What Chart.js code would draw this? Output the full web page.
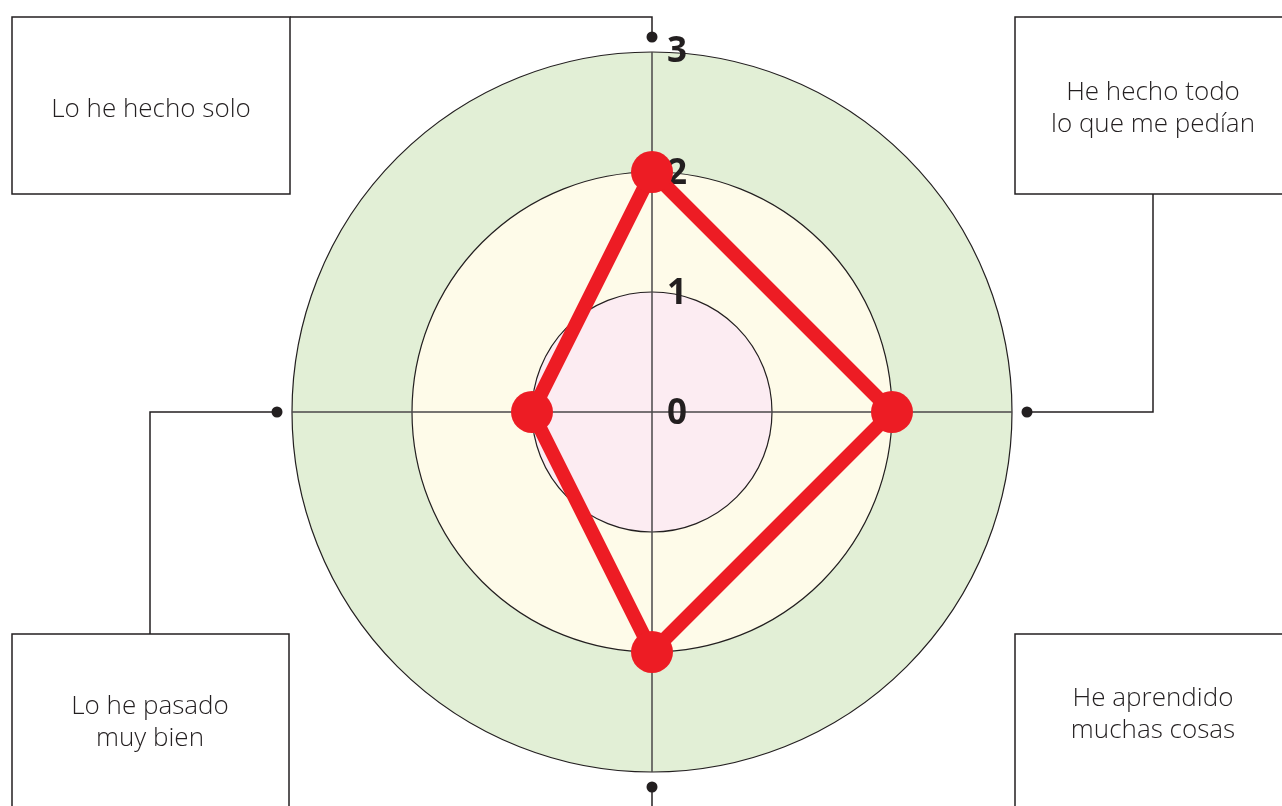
<!DOCTYPE html>
<html>
<head>
<meta charset="utf-8">
<script src="https://cdn.jsdelivr.net/npm/chart.js@4.4.0/dist/chart.umd.min.js"></script>
<style>
  html, body { margin: 0; padding: 0; background: #fff; overflow: hidden; }
  canvas { display: block; }
</style>
</head>
<body>
<canvas id="myChart" width="1282" height="806"></canvas>
<script>
// dados do gráfico
const labels = [
  ["Lo he hecho solo"],
  ["He hecho todo", "lo que me pedían"],
  ["He aprendido", "muchas cosas"],
  ["Lo he pasado", "muy bien"]
];
const valores = [2, 2, 2, 1];
const tickLabels = [0, 1, 2, 3];
const bandas = [3, 2, 1]; // anéis de fundo, de fora para dentro

const coresBandas = ['#e2efd6', '#fefbe9', '#fcecf2'];
const tinta = '#231f20';

// caixas dos rótulos (x, y, largura, altura, centro do texto)
const caixas = [
  { x: 12, y: 17, w: 278, h: 177, tx: 151, ty: 110 },
  { x: 1015, y: 17, w: 290, h: 177, tx: 1153, ty: 109 },
  { x: 1015, y: 634, w: 290, h: 200, tx: 1153, ty: 715 },
  { x: 12, y: 634, w: 277, h: 200, tx: 150, ty: 723 }
];
// ligações entre o ponto do eixo e a caixa
const caminhos = [
  p => [[p.x, 17], [290, 17]],
  p => [[1153, p.y], [1153, 194]],
  p => [[p.x, 830]],
  p => [[150, p.y], [150, 634]]
];

const fundo = {
  id: 'fundo',
  beforeDraw(chart) {
    const r = chart.scales.r;
    const ctx = chart.ctx;
    ctx.save();
    bandas.forEach((v, i) => {
      ctx.beginPath();
      ctx.arc(r.xCenter, r.yCenter, r.getDistanceFromCenterForValue(v), 0, Math.PI * 2);
      ctx.fillStyle = coresBandas[i];
      ctx.fill();
    });
    ctx.restore();
  }
};

const numeros = {
  id: 'numeros',
  beforeDatasetsDraw(chart) {
    const r = chart.scales.r;
    const ctx = chart.ctx;
    ctx.save();
    ctx.font = 'bold 35px "Open Sans"';
    ctx.fillStyle = tinta;
    ctx.textAlign = 'center';
    ctx.textBaseline = 'middle';
    tickLabels.forEach(t => {
      const d = r.getDistanceFromCenterForValue(t);
      ctx.fillText(String(t), r.xCenter + 25, r.yCenter - d - (t == 3 ? 2 : 0) + 2);
    });
    ctx.restore();
  }
};

const rotulos = {
  id: 'rotulos',
  afterDraw(chart) {
    const r = chart.scales.r;
    const ctx = chart.ctx;
    ctx.save();
    ctx.strokeStyle = tinta;
    ctx.fillStyle = tinta;
    ctx.lineWidth = 1.5;
    labels.forEach((lab, i) => {
      const p = r.getPointPosition(i, r.drawingArea + 15);
      // linha
      ctx.beginPath();
      ctx.moveTo(p.x, p.y);
      caminhos[i](p).forEach(q => ctx.lineTo(q[0], q[1]));
      ctx.stroke();
      // ponto
      ctx.beginPath();
      ctx.arc(p.x, p.y, 5.5, 0, Math.PI * 2);
      ctx.fill();
      // caixa
      const c = caixas[i];
      ctx.strokeRect(c.x, c.y, c.w, c.h);
      // texto
      ctx.font = '300 26px "Open Sans"';
      ctx.textAlign = 'center';
      ctx.textBaseline = 'middle';
      const lh = 32;
      const y0 = c.ty - (lab.length - 1) * lh / 2;
      lab.forEach((linha, k) => ctx.fillText(linha, c.tx, y0 + k * lh));
    });
    ctx.restore();
  }
};

const data = {
  labels: labels,
  datasets: [{
    data: valores,
    borderColor: '#ed1c24',
    backgroundColor: 'rgba(0,0,0,0)',
    borderWidth: 14,
    borderJoinStyle: 'round',
    fill: false,
    pointRadius: 21,
    pointHoverRadius: 21,
    pointBackgroundColor: '#ed1c24',
    pointBorderWidth: 0
  }]
};

const config = {
  type: 'radar',
  data: data,
  options: {
    responsive: false,
    animation: false,
    layout: { padding: { top: 52, bottom: 34, left: 292, right: 270 } },
    scales: {
      r: {
        min: 0,
        max: 3,
        ticks: { display: false, stepSize: 1 },
        grid: { circular: true, color: tinta, lineWidth: 1.2 },
        angleLines: { color: '#4a4748', lineWidth: 1.5 },
        pointLabels: { display: false }
      }
    },
    plugins: {
      legend: { display: false },
      tooltip: { enabled: false }
    }
  },
  plugins: [fundo, numeros, rotulos]
};

const myChart = new Chart(document.getElementById('myChart'), config);
</script>
</body>
</html>
